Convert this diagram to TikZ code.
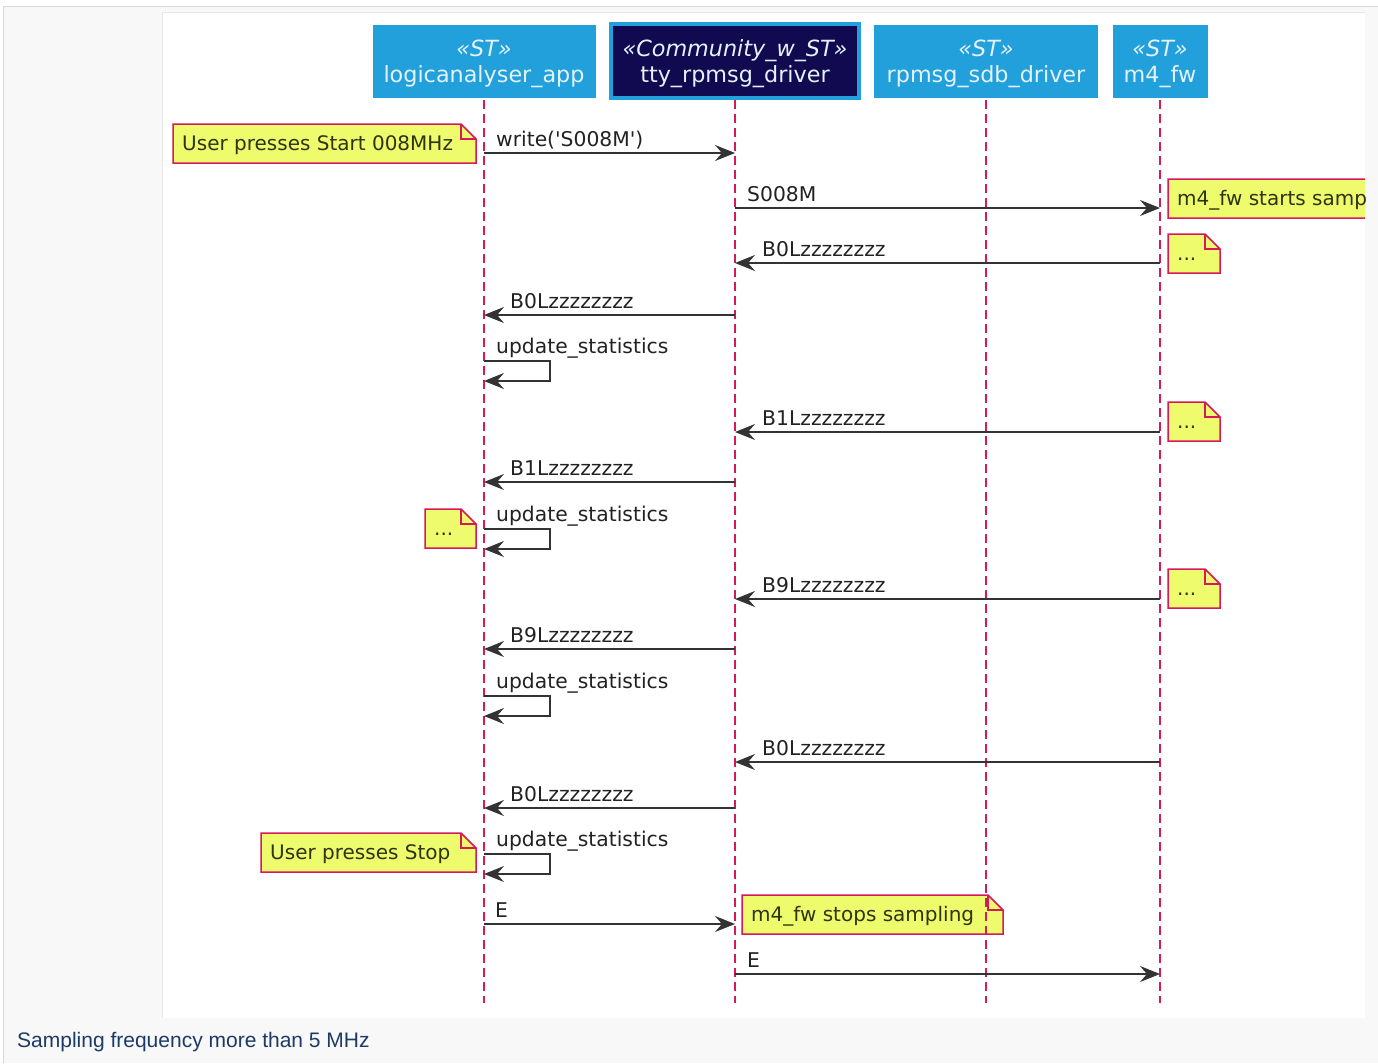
\documentclass[tikz,border=0pt]{standalone}
\usepackage{fontspec}
\setmainfont{DejaVu Sans}
\newfontfamily\captionfont{Liberation Sans}
\usetikzlibrary{arrows.meta}

\definecolor{stblue}{HTML}{22A0DC}
\definecolor{navy}{HTML}{120A50}
\definecolor{boxtext}{HTML}{E4F2FB}
\definecolor{lifeline}{HTML}{D6185C}
\definecolor{notefill}{HTML}{EEFB6D}
\definecolor{notetext}{HTML}{2E3410}
\definecolor{msgline}{HTML}{333333}
\definecolor{msgtext}{HTML}{222222}
\definecolor{pagebg}{HTML}{F8F8F8}
\definecolor{framegray}{HTML}{DADADA}
\definecolor{panelgray}{HTML}{E6E6E6}
\definecolor{captiontext}{HTML}{1D3A66}

\tikzset{
  actor/.style={fill=stblue, inner sep=0pt, minimum height=73pt},
  stereo/.style={anchor=base, inner sep=0pt, text=boxtext,
    font=\fontsize{22.3}{26}\selectfont\itshape},
  pname/.style={anchor=base, inner sep=0pt, text=boxtext,
    font=\fontsize{22.3}{26}\selectfont},
  life/.style={draw=lifeline, line width=1.5pt, dash pattern=on 9pt off 5pt},
  msg/.style={draw=msgline, line width=1.5pt,
    -{Stealth[length=20pt, width=16pt, inset=7pt, fill=msgline]}},
  lbl/.style={anchor=base west, inner sep=0pt, text=msgtext,
    font=\fontsize{20.3}{24}\selectfont},
  notebd/.style={draw=lifeline, fill=notefill, line width=1.5pt, line join=miter},
  notefold/.style={draw=lifeline, line width=1.5pt},
}

% name, x1, y1, x2, y2, text
\newcommand{\umlnote}[6]{%
  \filldraw[notebd] (#2,#3) -- (#4-15,#3) -- (#4,#3+15) -- (#4,#5) -- (#2,#5) -- cycle;
  \draw[notefold] (#4-15,#3) -- (#4-15,#3+15) -- (#4,#3+15);
  \node[lbl, text=notetext, font=\fontsize{20}{24}\selectfont] (#1)
    at (#2+9,{(#3+#5)/2+7}) {#6};
}

\begin{document}
\begin{tikzpicture}[x=1pt,y=-1pt]
  \useasboundingbox (0,0) rectangle (1378,1063);
  % page and panel
  \fill[white] (0,0) rectangle (1378,1063);
  \fill[pagebg] (3,6) rectangle (1378,1063);
  \draw[framegray, line width=1pt] (3,1063) -- (3,6) -- (1378,6);
  \fill[white] (162,12) rectangle (1365,1018);
  \draw[panelgray, line width=1pt] (162,1018) -- (162,12) -- (1365,12);
  \node[anchor=base west, inner sep=0pt, text=captiontext,
    font=\captionfont\fontsize{21}{25}\selectfont] (caption) at (17,1047)
    {Sampling frequency more than 5 MHz};

  \begin{scope}
    \clip (162,12) rectangle (1365,1018);
    % participants
    \node[actor, minimum width=223pt] (app) at (484,61.5) {};
    \node[actor, fill=navy, draw=stblue, line width=4pt, minimum width=248pt,
      minimum height=74pt] (tty) at (735,61) {};
    \node[actor, minimum width=224pt] (sdb) at (986,61.5) {};
    \node[actor, minimum width=95pt] (fw) at (1160,61.5) {};
    \foreach \p/\st/\nm in {app/«ST»/logicanalyser\_app,
        tty/«Community\_w\_ST»/tty\_rpmsg\_driver,
        sdb/«ST»/rpmsg\_sdb\_driver,
        fw/«ST»/m4\_fw}
    {
      \node[stereo] (\p-st) at (\p |- 0,56) {\st};
      \node[pname] (\p-nm) at (\p |- 0,82) {\nm};
    }

    % notes
    \umlnote{start}{173}{124}{476}{163}{User presses Start 008MHz}
    \umlnote{samp}{1168}{179}{1460}{218}{m4\_fw starts sampling}
    \umlnote{dots1}{1168}{234}{1220}{273}{...}
    \umlnote{dots2}{1168}{402}{1220}{441}{...}
    \umlnote{dots3}{425}{509}{476}{548}{...}
    \umlnote{dots4}{1168}{569}{1220}{608}{...}
    \umlnote{stop}{261}{833}{476}{872}{User presses Stop}
    \umlnote{stops}{742}{895}{1003}{934}{m4\_fw stops sampling}

    % lifelines
    \foreach \p in {app,tty,sdb,fw}
      \draw[life] (\p |- 0,100) -- (\p |- 0,1003);

    % messages
    \foreach \a/\b/\y/\lx/\t in {
        app/tty/153/496/write(\textquotesingle S008M\textquotesingle),
        tty/fw/208/747/S008M,
        fw/tty/263/762/B0Lzzzzzzzz,
        tty/app/315/510/B0Lzzzzzzzz,
        fw/tty/432/762/B1Lzzzzzzzz,
        tty/app/482/510/B1Lzzzzzzzz,
        fw/tty/599/762/B9Lzzzzzzzz,
        tty/app/649/510/B9Lzzzzzzzz,
        fw/tty/762/762/B0Lzzzzzzzz,
        tty/app/808/510/B0Lzzzzzzzz,
        app/tty/924/495/E,
        tty/fw/974/747/E}
    {
      \draw[msg] (\a |- 0,\y) -- (\b |- 0,\y);
      \node[lbl] (m\y) at (\lx,\y-7) {\t};
    }

    % self messages
    \foreach \y [evaluate=\y as \yb using int(\y+20)] in {361,529,696,854}
    {
      \draw[msg] (app |- 0,\y) -| ++(66,20) -- (app |- 0,\yb);
      \node[lbl] (s\y) at (496,\y-8) {update\_statistics};
    }
  \end{scope}
\end{tikzpicture}
\end{document}
